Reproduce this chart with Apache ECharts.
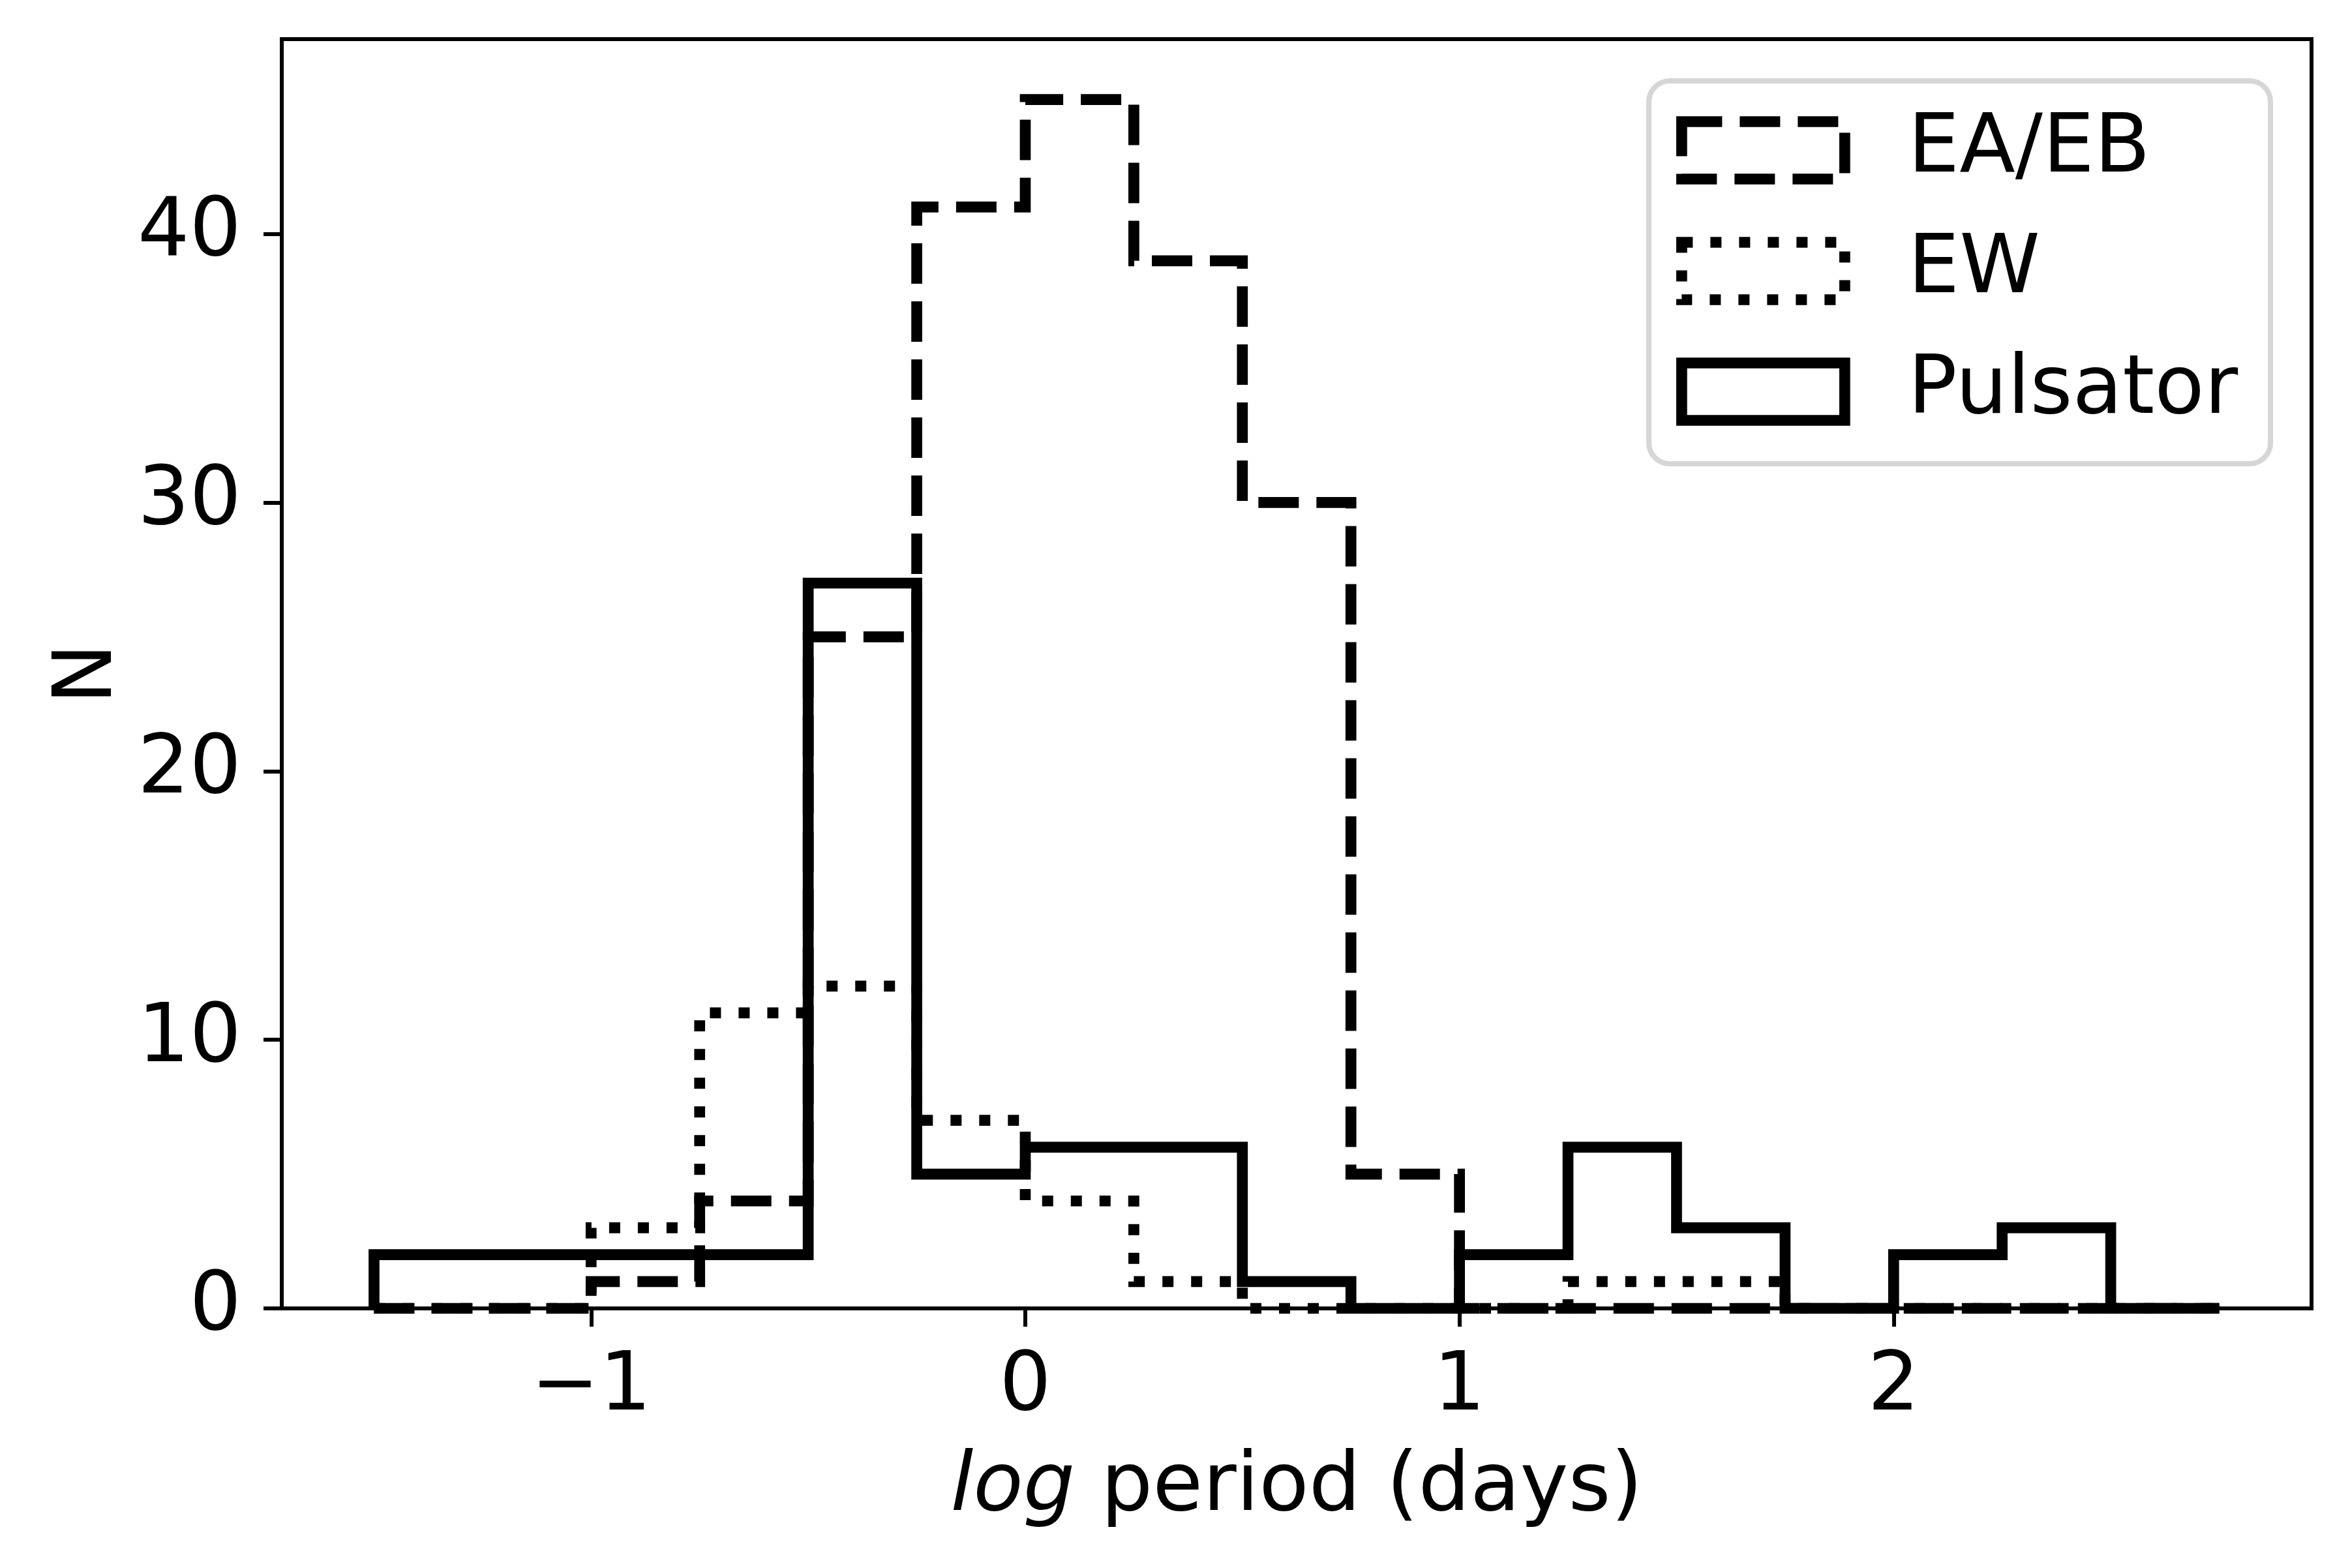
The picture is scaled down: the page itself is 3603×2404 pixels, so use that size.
<!DOCTYPE html>
<html>
<head>
<meta charset="utf-8">
<title>log period histogram</title>
<script src="https://cdn.jsdelivr.net/npm/echarts@6/dist/echarts.min.js"></script>
<style>
    html, body { margin: 0; padding: 0; background: #fff; }
    #chart { width: 3603px; height: 2404px; }
</style>
</head>
<body>
<div id="chart"></div>
<script>
// bin edges of the histograms (log period, days)
var binEdges = [-1.5, -1.25, -1, -0.75, -0.5, -0.25, 0, 0.25, 0.5, 0.75, 1, 1.25, 1.5, 1.75, 2, 2.25, 2.5, 2.75];

// counts per bin
var eaEbCounts = [0, 0, 1, 4, 25, 41, 45, 39, 30, 5, 0, 0, 0, 0, 0, 0, 0];
var ewCounts = [0, 0, 3, 11, 12, 7, 4, 1, 0, 0, 0, 1, 1, 0, 0, 0, 0];
var pulsatorCounts = [2, 2, 2, 2, 27, 5, 6, 6, 1, 0, 2, 6, 3, 0, 2, 3, 0];

var seriesNames = ['EA/EB', 'EW', 'Pulsator'];

var xTicks = [-1, 0, 1, 2];
var yTicks = [0, 10, 20, 30, 40];

var FONT = 'DejaVu Sans';
var FS = 125;
var LW = 16.7;
var dashed = [62, 27];
var dotted = [17, 27];

/**
 * histtype='step' outline: up from the first edge, along the bins, down at the last edge
 */
function stepOutline(edges, counts) {
    var pts = [[edges[0], 0]];
    for (var i = 0; i < counts.length; i++) {
        pts.push([edges[i], counts[i]]);
        pts.push([edges[i + 1], counts[i]]);
    }
    pts.push([edges[edges.length - 1], 0]);
    return pts;
}

function minusLabel(v) {
    return v < 0 ? '\u2212' + Math.abs(v) : String(v);
}

function stepSeries(name, counts, dash) {
    return {
        name: name,
        type: 'line',
        data: stepOutline(binEdges, counts),
        symbol: 'none',
        showSymbol: false,
        clip: true,
        animation: false,
        silent: true,
        lineStyle: {
            color: '#000',
            width: LW,
            type: dash,
            cap: 'butt',
            join: 'miter'
        },
        emphasis: { disabled: true }
    };
}

function legendItem(name, dash) {
    return {
        name: name,
        icon: 'rect',
        itemStyle: {
            color: 'transparent',
            borderColor: '#000',
            borderWidth: LW,
            borderType: dash,
            borderCap: 'butt',
            borderJoin: 'miter'
        }
    };
}

var myChart = echarts.init(document.getElementById('chart'), null, { renderer: 'canvas' });

var option = {
    backgroundColor: '#fff',
    animation: false,
    textStyle: { fontFamily: FONT, color: '#000' },
    grid: {
        left: 432,
        top: 60,
        right: 59,
        bottom: 398,
        show: true,
        borderColor: '#000',
        borderWidth: 6,
        backgroundColor: 'transparent',
        containLabel: false,
        outerBoundsMode: 'none'
    },
    legend: {
        orient: 'vertical',
        left: 2528,
        top: 124,
        padding: [44, 50, 48, 42],
        backgroundColor: '#fff',
        borderColor: '#d6d6d6',
        borderWidth: 8,
        borderRadius: 32,
        itemWidth: 250,
        itemHeight: 88,
        itemGap: 60,
        selectedMode: false,
        textStyle: {
            fontFamily: FONT,
            fontSize: FS,
            color: '#000',
            lineHeight: 88,
            padding: [0, 0, 0, 92]
        },
        data: [
            legendItem(seriesNames[0], dashed),
            legendItem(seriesNames[1], dotted),
            legendItem(seriesNames[2], 'solid')
        ]
    },
    xAxis: {
        type: 'value',
        min: -1.7125,
        max: 2.9625,
        name: '{i|log} period (days)',
        nameLocation: 'middle',
        nameGap: 214,
        nameTextStyle: {
            fontFamily: FONT,
            fontSize: FS,
            color: '#000',
            rich: {
                i: { fontFamily: FONT, fontSize: FS, fontStyle: 'italic', color: '#000' }
            }
        },
        splitLine: { show: false },
        axisLine: { show: true, onZero: false, lineStyle: { color: '#000', width: 6 } },
        axisTick: {
            show: true,
            inside: false,
            length: 28,
            customValues: xTicks,
            lineStyle: { color: '#000', width: 6 }
        },
        axisLabel: {
            customValues: xTicks,
            margin: 60,
            fontFamily: FONT,
            fontSize: FS,
            color: '#000',
            formatter: minusLabel
        }
    },
    yAxis: {
        type: 'value',
        min: 0,
        max: 47.25,
        name: 'N',
        nameLocation: 'middle',
        nameGap: 228,
        nameRotate: 90,
        nameTextStyle: { fontFamily: FONT, fontSize: FS, color: '#000' },
        splitLine: { show: false },
        axisLine: { show: true, onZero: false, lineStyle: { color: '#000', width: 6 } },
        axisTick: {
            show: true,
            inside: false,
            length: 28,
            customValues: yTicks,
            lineStyle: { color: '#000', width: 6 }
        },
        axisLabel: {
            customValues: yTicks,
            margin: 62,
            fontFamily: FONT,
            fontSize: FS,
            color: '#000'
        }
    },
    series: [
        stepSeries(seriesNames[0], eaEbCounts, dashed),
        stepSeries(seriesNames[1], ewCounts, dotted),
        stepSeries(seriesNames[2], pulsatorCounts, 'solid')
    ]
};

myChart.setOption(option);
</script>
</body>
</html>
